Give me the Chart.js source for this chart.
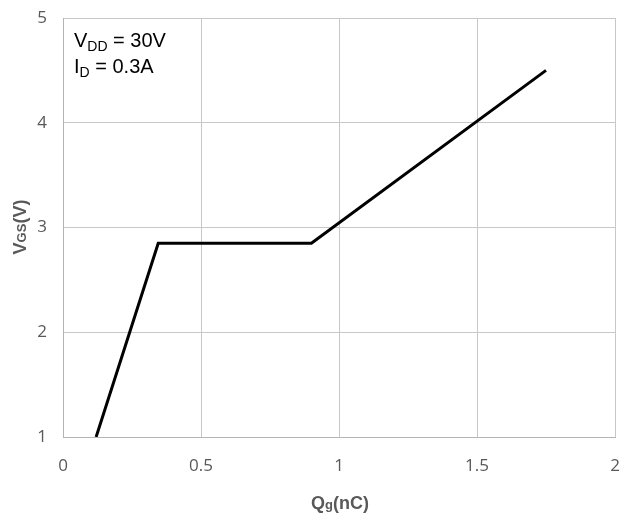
<!DOCTYPE html>
<html>
<head>
<meta charset="utf-8">
<script src="https://cdn.jsdelivr.net/npm/chart.js@4.4.1/dist/chart.umd.min.js"></script>
<style>
html,body{margin:0;padding:0;background:#fff;}
#wrap{width:620px;height:513px;position:relative;}
</style>
</head>
<body>
<div id="wrap"><canvas id="c" width="620" height="513"></canvas></div>
<script>
// Data
const qg = [0.12, 0.345, 0.9, 1.75];          // Qg (nC)
const vgs = [1, 2.85, 2.85, 4.5];            // VGS (V)
const xTicks = [0, 0.5, 1, 1.5, 2];
const yTicks = [1, 2, 3, 4, 5];
const noteLines = [
  [["V", false], ["DD", true], [" = 30V", false]],
  [["I", false], ["D", true], [" = 0.3A", false]]
];
const xTitle = [["Q", false], ["g", true], ["(nC)", false]];
const yTitle = [["V", false], ["GS", true], ["(V)", false]];

const points = qg.map((x, i) => ({x: x, y: vgs[i]}));

function drawRich(ctx, parts, x, y, bigFont, smallFont, subShift, align) {
  let total = 0;
  parts.forEach(p => { ctx.font = p[1] ? smallFont : bigFont; total += ctx.measureText(p[0]).width; });
  let cx = align === 'center' ? x - total / 2 : x;
  ctx.textAlign = 'left';
  ctx.textBaseline = 'alphabetic';
  parts.forEach(p => {
    ctx.font = p[1] ? smallFont : bigFont;
    ctx.fillText(p[0], cx, y + (p[1] ? subShift : 0));
    cx += ctx.measureText(p[0]).width;
  });
}

const textPlugin = {
  id: 'texts',
  afterDraw(chart) {
    const ctx = chart.ctx;
    const area = chart.chartArea;
    ctx.save();
    // annotation
    ctx.fillStyle = '#000';
    drawRich(ctx, noteLines[0], area.left + 11, 47, '20px "Liberation Sans", Arial', '14px "Liberation Sans", Arial', 4, 'left');
    drawRich(ctx, noteLines[1], area.left + 11, 73, '20px "Liberation Sans", Arial', '14px "Liberation Sans", Arial', 4, 'left');
    // x title
    ctx.fillStyle = '#595959';
    drawRich(ctx, xTitle, 340, 509, 'bold 18px "Liberation Sans", Arial', 'bold 13px "Liberation Sans", Arial', 0, 'center');
    // y title
    ctx.translate(26, 227);
    ctx.rotate(-Math.PI / 2);
    drawRich(ctx, yTitle, 0, 0, 'bold 18px "Liberation Sans", Arial', 'bold 13px "Liberation Sans", Arial', 0, 'center');
    ctx.restore();
  }
};

new Chart(document.getElementById('c'), {
  type: 'scatter',
  data: {
    datasets: [{
      data: points,
      showLine: true,
      borderColor: '#000',
      borderWidth: 3,
      pointRadius: 0,
      fill: false,
      tension: 0
    }]
  },
  options: {
    responsive: false,
    animation: false,
    layout: { padding: { top: 18, right: 5, left: 0, bottom: 0 } },
    plugins: { legend: { display: false }, tooltip: { enabled: false } },
    scales: {
      x: {
        type: 'linear',
        min: 0, max: 2,
        afterBuildTicks: s => { s.ticks = xTicks.map(v => ({value: v})); },
        afterFit: s => { s.height = 76; s.paddingLeft = 0; s.paddingRight = 0; },
        grid: { color: '#c8c8c8', lineWidth: 1, drawTicks: false },
        border: { color: '#b4b4b4', width: 1 },
        ticks: { color: '#595959', font: { family: '"Open Sans"', size: 17 }, padding: 19, maxRotation: 0, callback: v => String(v) }
      },
      y: {
        type: 'linear',
        min: 1, max: 5,
        afterBuildTicks: s => { s.ticks = yTicks.map(v => ({value: v})); },
        afterFit: s => { s.width = 63; s.paddingTop = 0; s.paddingBottom = 0; },
        grid: { color: '#c8c8c8', lineWidth: 1, drawTicks: false },
        border: { color: '#b4b4b4', width: 1 },
        ticks: { color: '#595959', font: { family: '"Open Sans"', size: 17 }, padding: 16, callback: v => String(v) }
      }
    }
  },
  plugins: [textPlugin]
});
</script>
</body>
</html>
